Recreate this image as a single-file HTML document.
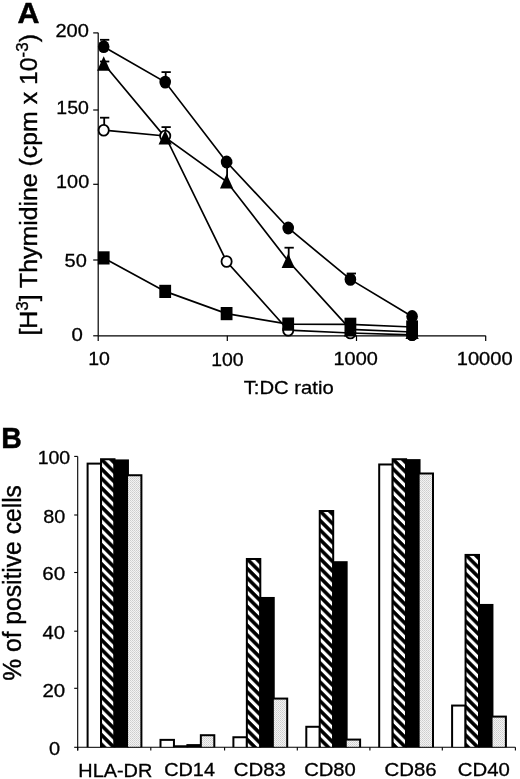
<!DOCTYPE html>
<html><head><meta charset="utf-8"><style>html,body{margin:0;padding:0;background:#fff;width:520px;height:779px;overflow:hidden}svg{display:block;will-change:transform}</style></head>
<body>
<svg width="520" height="779" viewBox="0 0 520 779">
<defs>
<pattern id="grey" patternUnits="userSpaceOnUse" width="2" height="2">
<rect width="2" height="2" fill="#f3f3f3"/><rect width="1" height="1" fill="#cdcdcd"/><rect x="1" y="1" width="1" height="1" fill="#d8d8d8"/>
</pattern>
</defs>
<rect width="520" height="779" fill="#fff"/>
<g stroke="#000" stroke-width="1.2" fill="none">
<line x1="98.2" y1="32.8" x2="98.2" y2="335.8"/>
<line x1="98.2" y1="335.8" x2="485.7" y2="335.8"/>
<line x1="93.2" y1="32.90" x2="98.2" y2="32.90"/>
<line x1="93.2" y1="110.00" x2="98.2" y2="110.00"/>
<line x1="93.2" y1="184.30" x2="98.2" y2="184.30"/>
<line x1="93.2" y1="260.00" x2="98.2" y2="260.00"/>
<line x1="93.2" y1="335.80" x2="98.2" y2="335.80"/>
<line x1="98.2" y1="335.8" x2="98.2" y2="341.0"/>
<line x1="227.3" y1="335.8" x2="227.3" y2="341.0"/>
<line x1="356.5" y1="335.8" x2="356.5" y2="341.0"/>
<line x1="485.7" y1="335.8" x2="485.7" y2="341.0"/>
</g>
<g font-family="Liberation Sans, sans-serif" fill="#000">
<text transform="matrix(1.0904,0,0,1.0000,55.40,36.60)" font-size="18.4" font-weight="normal" stroke="#000" stroke-width="0.294">200</text>
<text transform="matrix(1.0592,0,0,1.0000,56.34,114.35)" font-size="18.4" font-weight="normal" stroke="#000" stroke-width="0.294">150</text>
<text transform="matrix(1.0765,0,0,1.0000,56.11,188.30)" font-size="18.4" font-weight="normal" stroke="#000" stroke-width="0.294">100</text>
<text transform="matrix(1.0870,0,0,1.0000,64.60,266.90)" font-size="18.4" font-weight="normal" stroke="#000" stroke-width="0.294">50</text>
<text transform="matrix(1.1089,0,0,1.0000,71.59,340.65)" font-size="18.4" font-weight="normal" stroke="#000" stroke-width="0.294">0</text>
<text transform="matrix(1.0601,0,0,1.0000,88.13,365.35)" font-size="18.4" font-weight="normal" stroke="#000" stroke-width="0.294">10</text>
<text transform="matrix(1.0557,0,0,1.0000,211.24,365.55)" font-size="18.4" font-weight="normal" stroke="#000" stroke-width="0.294">100</text>
<text transform="matrix(1.0818,0,0,1.0000,333.51,365.20)" font-size="18.4" font-weight="normal" stroke="#000" stroke-width="0.294">1000</text>
<text transform="matrix(1.0910,0,0,1.0000,456.79,365.20)" font-size="18.4" font-weight="normal" stroke="#000" stroke-width="0.294">10000</text>
<text transform="matrix(1.1006,0,0,1.0000,243.70,393.78)" font-size="18.4" font-weight="normal" stroke="#000" stroke-width="0.294">T:DC ratio</text>
<text transform="matrix(1.0592,0,0,1.0000,37.64,463.65)" font-size="18.4" font-weight="normal" stroke="#000" stroke-width="0.294">100</text>
<text transform="matrix(1.0766,0,0,1.0000,43.21,522.89)" font-size="18.4" font-weight="normal" stroke="#000" stroke-width="0.294">80</text>
<text transform="matrix(1.1185,0,0,1.0000,42.37,580.30)" font-size="18.4" font-weight="normal" stroke="#000" stroke-width="0.294">60</text>
<text transform="matrix(1.0972,0,0,1.0000,42.60,639.20)" font-size="18.4" font-weight="normal" stroke="#000" stroke-width="0.294">40</text>
<text transform="matrix(1.1131,0,0,1.0000,42.48,696.60)" font-size="18.4" font-weight="normal" stroke="#000" stroke-width="0.294">20</text>
<text transform="matrix(1.0870,0,0,1.0000,49.10,755.00)" font-size="18.4" font-weight="normal" stroke="#000" stroke-width="0.294">0</text>
<text transform="matrix(1.0809,0,0,1.0000,78.31,776.60)" font-size="18.4" font-weight="normal" stroke="#000" stroke-width="0.294">HLA-DR</text>
<text transform="matrix(1.0782,0,0,1.0000,164.21,776.40)" font-size="18.4" font-weight="normal" stroke="#000" stroke-width="0.294">CD14</text>
<text transform="matrix(1.1089,0,0,1.0000,233.78,776.49)" font-size="18.4" font-weight="normal" stroke="#000" stroke-width="0.294">CD83</text>
<text transform="matrix(1.0979,0,0,1.0000,304.19,776.39)" font-size="18.4" font-weight="normal" stroke="#000" stroke-width="0.294">CD80</text>
<text transform="matrix(1.1089,0,0,1.0000,384.58,776.49)" font-size="18.4" font-weight="normal" stroke="#000" stroke-width="0.294">CD86</text>
<text transform="matrix(1.1067,0,0,1.0000,457.78,776.45)" font-size="18.4" font-weight="normal" stroke="#000" stroke-width="0.294">CD40</text>
<text transform="matrix(1.0495,0,0,1.0174,17.44,22.50)" font-size="29.0" font-weight="bold" stroke="#000" stroke-width="0.464">A</text>
<text transform="matrix(0.9821,0,0,1.0148,1.29,448.05)" font-size="29.0" font-weight="bold" stroke="#000" stroke-width="0.464">B</text>
</g>
<text font-family="Liberation Sans, sans-serif" font-size="22" stroke="#000" stroke-width="0.352" transform="translate(37.2,335.6) rotate(-90) scale(1.13,1.1)">[H<tspan font-size="15" dy="-8">3</tspan><tspan dy="8">] Thymidine (cpm x 10</tspan><tspan font-size="15" dy="-8">-3</tspan><tspan dy="8">)</tspan></text>
<text font-family="Liberation Sans, sans-serif" font-size="22.7" stroke="#000" stroke-width="0.363" transform="translate(21.0,680.8) rotate(-90) scale(1.085,1.1)">% of positive cells</text>
<g stroke="#000" stroke-width="1.7" fill="none">
<polyline points="103.7,46.7 165.2,82.1 226.6,162.0 288.2,228.0 350.4,279.4 412.1,316.5"/>
<polyline points="103.7,63.7 165.2,137.4 226.6,181.5 288.2,261.0 350.4,329.4 412.1,332.0"/>
<polyline points="103.7,130.2 165.2,136.0 226.6,261.5 288.2,330.2 350.4,333.0 412.1,334.8"/>
<polyline points="103.7,257.9 165.2,291.4 226.6,313.6 288.2,324.1 350.4,324.3 412.1,327.0"/>
</g>
<g stroke="#000" stroke-width="1.8" fill="none">
<line x1="104.2" y1="46.7" x2="104.2" y2="39.8"/><line x1="100.0" y1="39.8" x2="109.3" y2="39.8"/>
<line x1="165.7" y1="82.1" x2="165.7" y2="72.1"/><line x1="161.5" y1="72.1" x2="170.79999999999998" y2="72.1"/>
<line x1="350.9" y1="279.4" x2="350.9" y2="273.5"/><line x1="346.7" y1="273.5" x2="356.0" y2="273.5"/>
<line x1="104.2" y1="63.7" x2="104.2" y2="61.5"/><line x1="100.0" y1="61.5" x2="109.3" y2="61.5"/>
<line x1="165.7" y1="137.4" x2="165.7" y2="127.1"/><line x1="161.5" y1="127.1" x2="170.79999999999998" y2="127.1"/>
<line x1="288.7" y1="261.0" x2="288.7" y2="247.7"/><line x1="284.5" y1="247.7" x2="293.8" y2="247.7"/>
<line x1="227.1" y1="181.5" x2="227.1" y2="163"/><line x1="222.9" y1="163" x2="232.2" y2="163"/>
<line x1="104.2" y1="130.2" x2="104.2" y2="117.7"/><line x1="100.0" y1="117.7" x2="109.3" y2="117.7"/>
</g>
<ellipse cx="103.7" cy="130.2" rx="5.1" ry="5.4" fill="#fff" stroke="#000" stroke-width="1.8"/>
<ellipse cx="165.2" cy="136.0" rx="5.1" ry="5.4" fill="#fff" stroke="#000" stroke-width="1.8"/>
<ellipse cx="226.6" cy="261.5" rx="5.1" ry="5.4" fill="#fff" stroke="#000" stroke-width="1.8"/>
<ellipse cx="288.2" cy="330.2" rx="5.1" ry="5.4" fill="#fff" stroke="#000" stroke-width="1.8"/>
<ellipse cx="350.4" cy="333.0" rx="5.1" ry="5.4" fill="#fff" stroke="#000" stroke-width="1.8"/>
<ellipse cx="412.1" cy="334.8" rx="5.1" ry="5.4" fill="#fff" stroke="#000" stroke-width="1.8"/>
<rect x="97.8" y="251.29999999999998" width="11.8" height="13.2" fill="#000"/>
<rect x="159.29999999999998" y="284.79999999999995" width="11.8" height="13.2" fill="#000"/>
<rect x="220.7" y="307.0" width="11.8" height="13.2" fill="#000"/>
<rect x="282.3" y="317.5" width="11.8" height="13.2" fill="#000"/>
<rect x="344.5" y="317.7" width="11.8" height="13.2" fill="#000"/>
<rect x="406.20000000000005" y="320.4" width="11.8" height="13.2" fill="#000"/>
<polygon points="103.7,56.300000000000004 110.3,70.8 97.10000000000001,70.8" fill="#000"/>
<polygon points="165.2,130.0 171.79999999999998,144.5 158.6,144.5" fill="#000"/>
<polygon points="226.6,174.1 233.2,188.6 220.0,188.6" fill="#000"/>
<polygon points="288.2,253.6 294.8,268.1 281.59999999999997,268.1" fill="#000"/>
<polygon points="350.4,322.0 357.0,336.5 343.79999999999995,336.5" fill="#000"/>
<polygon points="412.1,324.6 418.70000000000005,339.1 405.5,339.1" fill="#000"/>
<ellipse cx="103.7" cy="46.7" rx="5.8" ry="6.4" fill="#000"/>
<ellipse cx="165.2" cy="82.1" rx="5.8" ry="6.4" fill="#000"/>
<ellipse cx="226.6" cy="162.0" rx="5.8" ry="6.4" fill="#000"/>
<ellipse cx="288.2" cy="228.0" rx="5.8" ry="6.4" fill="#000"/>
<ellipse cx="350.4" cy="279.4" rx="5.8" ry="6.4" fill="#000"/>
<ellipse cx="412.1" cy="316.5" rx="5.8" ry="6.4" fill="#000"/>
<ellipse cx="412.1" cy="334.8" rx="5.9" ry="6.2" fill="#000"/>
<g stroke="#000" stroke-width="1.1" fill="none">
<line x1="77.7" y1="456.5" x2="77.7" y2="750.4"/>
<line x1="77.7" y1="747.3" x2="515.4" y2="747.3"/>
<line x1="74.2" y1="456.40" x2="77.7" y2="456.40"/>
<line x1="74.2" y1="515.00" x2="77.7" y2="515.00"/>
<line x1="74.2" y1="572.50" x2="77.7" y2="572.50"/>
<line x1="74.2" y1="631.20" x2="77.7" y2="631.20"/>
<line x1="74.2" y1="688.30" x2="77.7" y2="688.30"/>
<line x1="74.2" y1="747.30" x2="77.7" y2="747.30"/>
<line x1="77.70" y1="747.3" x2="77.70" y2="750.4"/>
<line x1="150.80" y1="747.3" x2="150.80" y2="750.4"/>
<line x1="224.60" y1="747.3" x2="224.60" y2="750.4"/>
<line x1="297.30" y1="747.3" x2="297.30" y2="750.4"/>
<line x1="369.90" y1="747.3" x2="369.90" y2="750.4"/>
<line x1="442.30" y1="747.3" x2="442.30" y2="750.4"/>
<line x1="515.40" y1="747.3" x2="515.40" y2="750.4"/>
</g>
<defs><pattern id="hatch0" patternUnits="userSpaceOnUse" width="30" height="9.5" patternTransform="translate(102.05,459.99) skewY(45)"><rect width="30" height="9.5" fill="#000"/><rect y="2.5" width="30" height="4.4" fill="#fff"/></pattern><pattern id="hatch1" patternUnits="userSpaceOnUse" width="30" height="9.5" patternTransform="translate(174.95,747.01) skewY(45)"><rect width="30" height="9.5" fill="#000"/><rect y="2.5" width="30" height="4.4" fill="#fff"/></pattern><pattern id="hatch2" patternUnits="userSpaceOnUse" width="30" height="9.5" patternTransform="translate(247.85,559.74) skewY(45)"><rect width="30" height="9.5" fill="#000"/><rect y="2.5" width="30" height="4.4" fill="#fff"/></pattern><pattern id="hatch3" patternUnits="userSpaceOnUse" width="30" height="9.5" patternTransform="translate(320.75,511.76) skewY(45)"><rect width="30" height="9.5" fill="#000"/><rect y="2.5" width="30" height="4.4" fill="#fff"/></pattern><pattern id="hatch4" patternUnits="userSpaceOnUse" width="30" height="9.5" patternTransform="translate(393.65,459.99) skewY(45)"><rect width="30" height="9.5" fill="#000"/><rect y="2.5" width="30" height="4.4" fill="#fff"/></pattern><pattern id="hatch5" patternUnits="userSpaceOnUse" width="30" height="9.5" patternTransform="translate(466.55,555.67) skewY(45)"><rect width="30" height="9.5" fill="#000"/><rect y="2.5" width="30" height="4.4" fill="#fff"/></pattern></defs>
<rect x="86.60" y="462.61" width="15.45" height="284.69" fill="#000"/>
<rect x="88.60" y="464.61" width="11.45" height="282.19" fill="#fff"/>
<rect x="100.05" y="458.24" width="15.45" height="289.06" fill="#000"/>
<rect x="102.05" y="460.24" width="11.45" height="286.56" fill="url(#hatch0)"/>
<rect x="113.50" y="459.41" width="15.45" height="287.89" fill="#000"/>
<rect x="126.95" y="474.24" width="15.45" height="273.06" fill="#000"/>
<rect x="128.05" y="476.24" width="12.35" height="270.56" fill="url(#grey)"/>
<rect x="159.50" y="738.87" width="15.45" height="8.43" fill="#000"/>
<rect x="161.50" y="740.87" width="11.45" height="5.93" fill="#fff"/>
<rect x="172.95" y="745.26" width="15.45" height="2.04" fill="#000"/>
<rect x="186.40" y="744.10" width="15.45" height="3.20" fill="#000"/>
<rect x="199.85" y="734.21" width="15.45" height="13.09" fill="#000"/>
<rect x="201.85" y="736.21" width="11.45" height="10.59" fill="url(#grey)"/>
<rect x="232.40" y="736.25" width="15.45" height="11.05" fill="#000"/>
<rect x="234.40" y="738.25" width="11.45" height="8.55" fill="#fff"/>
<rect x="245.85" y="557.99" width="15.45" height="189.31" fill="#000"/>
<rect x="247.85" y="559.99" width="11.45" height="186.81" fill="url(#hatch2)"/>
<rect x="259.30" y="596.96" width="15.45" height="150.34" fill="#000"/>
<rect x="272.75" y="697.57" width="15.45" height="49.73" fill="#000"/>
<rect x="273.85" y="699.57" width="12.35" height="47.23" fill="url(#grey)"/>
<rect x="305.30" y="725.78" width="15.45" height="21.52" fill="#000"/>
<rect x="307.30" y="727.78" width="11.45" height="19.02" fill="#fff"/>
<rect x="318.75" y="510.01" width="15.45" height="237.29" fill="#000"/>
<rect x="320.75" y="512.01" width="11.45" height="234.79" fill="url(#hatch3)"/>
<rect x="332.20" y="561.19" width="15.45" height="186.11" fill="#000"/>
<rect x="345.65" y="738.58" width="15.45" height="8.72" fill="#000"/>
<rect x="346.75" y="740.58" width="12.35" height="6.22" fill="url(#grey)"/>
<rect x="378.20" y="463.48" width="15.45" height="283.82" fill="#000"/>
<rect x="380.20" y="465.48" width="11.45" height="281.32" fill="#fff"/>
<rect x="391.65" y="458.24" width="15.45" height="289.06" fill="#000"/>
<rect x="393.65" y="460.24" width="11.45" height="286.56" fill="url(#hatch4)"/>
<rect x="405.10" y="459.12" width="15.45" height="288.18" fill="#000"/>
<rect x="418.55" y="472.49" width="15.45" height="274.81" fill="#000"/>
<rect x="419.65" y="474.49" width="12.35" height="272.31" fill="url(#grey)"/>
<rect x="451.10" y="704.55" width="15.45" height="42.75" fill="#000"/>
<rect x="453.10" y="706.55" width="11.45" height="40.25" fill="#fff"/>
<rect x="464.55" y="553.92" width="15.45" height="193.38" fill="#000"/>
<rect x="466.55" y="555.92" width="11.45" height="190.88" fill="url(#hatch5)"/>
<rect x="478.00" y="603.94" width="15.45" height="143.36" fill="#000"/>
<rect x="491.45" y="715.60" width="15.45" height="31.70" fill="#000"/>
<rect x="492.55" y="717.60" width="12.35" height="29.20" fill="url(#grey)"/>
</svg>
</body></html>
